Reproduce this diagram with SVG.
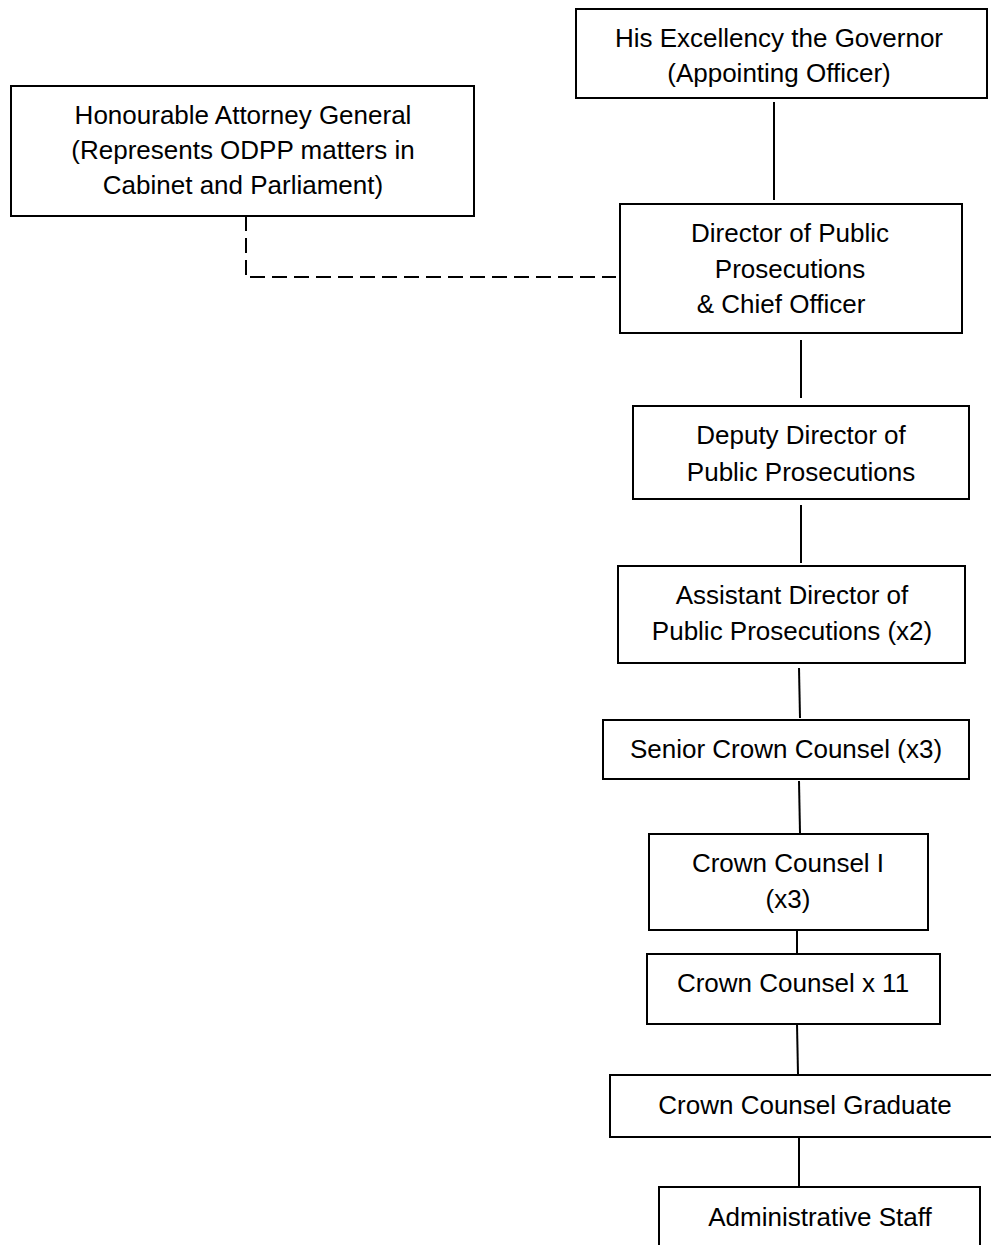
<svg xmlns="http://www.w3.org/2000/svg" width="991" height="1245" viewBox="0 0 991 1245">
<style>
.box{fill:#fff;stroke:#000;stroke-width:2}
.t{font-family:"Liberation Sans",Arial,sans-serif;font-size:26px;fill:#000;text-anchor:middle}
.c{stroke:#000;stroke-width:2;fill:none}
.d{stroke:#000;stroke-width:2;fill:none;stroke-dasharray:15,7}
</style>
<rect width="991" height="1245" fill="#fff"/>
<g id="connectors">
<line class="c" x1="774" y1="102" x2="774" y2="200"/>
<line class="d" x1="246" y1="216" x2="246" y2="276"/>
<line class="d" x1="250" y1="277" x2="616" y2="277"/>
<line class="c" x1="801" y1="340" x2="801" y2="398"/>
<line class="c" x1="801" y1="505" x2="801" y2="563"/>
<line class="c" x1="799" y1="668" x2="800" y2="718"/>
<line class="c" x1="799" y1="781" x2="800" y2="833"/>
<line class="c" x1="797" y1="930" x2="797" y2="953"/>
<line class="c" x1="797" y1="1024" x2="798" y2="1074"/>
<line class="c" x1="799" y1="1137" x2="799" y2="1186"/>
</g>
<g id="governor">
<rect class="box" x="576" y="9" width="411" height="89"/>
<text class="t" x="779" y="47">His Excellency the Governor</text>
<text class="t" x="779" y="82">(Appointing Officer)</text>
</g>
<g id="attorney-general">
<rect class="box" x="11" y="86" width="463" height="130"/>
<text class="t" x="243" y="124">Honourable Attorney General</text>
<text class="t" x="243" y="159">(Represents ODPP matters in</text>
<text class="t" x="243" y="194">Cabinet and Parliament)</text>
</g>
<g id="director">
<rect class="box" x="620" y="204" width="342" height="129"/>
<text class="t" x="790" y="242">Director of Public</text>
<text class="t" x="790" y="278">Prosecutions</text>
<text class="t" x="781" y="313">&amp; Chief Officer</text>
</g>
<g id="deputy-director">
<rect class="box" x="633" y="406" width="336" height="93"/>
<text class="t" x="801" y="444">Deputy Director of</text>
<text class="t" x="801" y="481">Public Prosecutions</text>
</g>
<g id="assistant-director">
<rect class="box" x="618" y="566" width="347" height="97"/>
<text class="t" x="792" y="604">Assistant Director of</text>
<text class="t" x="792" y="640">Public Prosecutions (x2)</text>
</g>
<g id="senior-crown-counsel">
<rect class="box" x="603" y="720" width="366" height="59"/>
<text class="t" x="786" y="758">Senior Crown Counsel (x3)</text>
</g>
<g id="crown-counsel-1">
<rect class="box" x="649" y="834" width="279" height="96"/>
<text class="t" x="788" y="872">Crown Counsel I</text>
<text class="t" x="788" y="908">(x3)</text>
</g>
<g id="crown-counsel">
<rect class="box" x="647" y="954" width="293" height="70"/>
<text class="t" x="793" y="992">Crown Counsel x 11</text>
</g>
<g id="crown-counsel-graduate">
<rect class="box" x="610" y="1075" width="400" height="62"/>
<text class="t" x="805" y="1114">Crown Counsel Graduate</text>
</g>
<g id="administrative-staff">
<rect class="box" x="659" y="1187" width="321" height="80"/>
<text class="t" x="820" y="1226">Administrative Staff</text>
</g>
</svg>
